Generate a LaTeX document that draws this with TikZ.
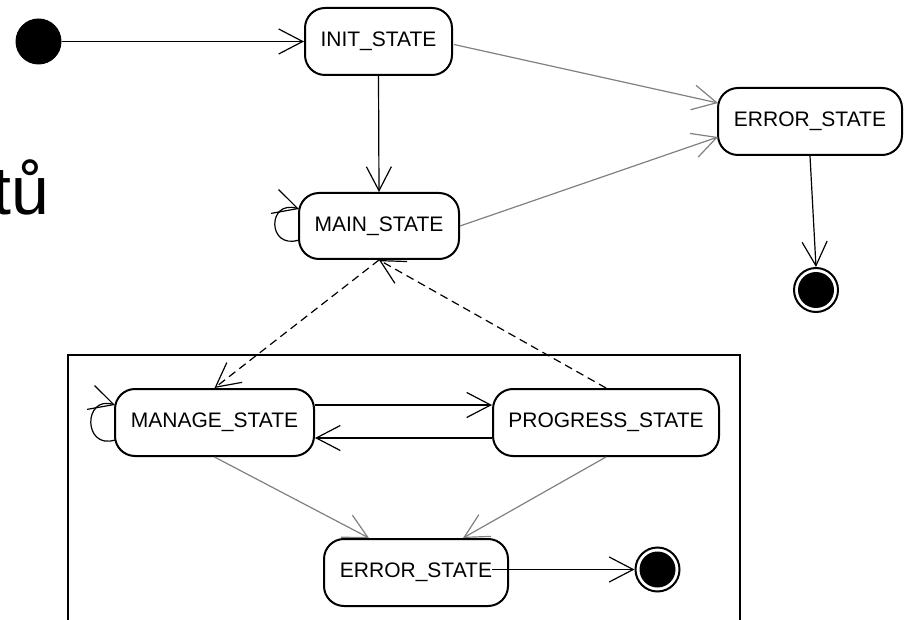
\documentclass[tikz,border=0pt]{standalone}
\usepackage{fontspec}
\setmainfont{Liberation Sans}
\usetikzlibrary{arrows.meta,calc}
\begin{document}
\begin{tikzpicture}[x=1pt,y=-1pt,
 state/.style={draw, line width=2pt, rounded corners=20pt, fill=white, minimum height=67pt, inner sep=0pt, font=\fontsize{21}{24}\selectfont},
 tr/.style={line width=1.2pt, -{Straight Barb[length=24pt,width=25pt]}},
 grey/.style={tr, draw=gray},
 dsh/.style={tr, dash pattern=on 8pt off 5pt},
 final/.style={circle, draw, line width=2pt, minimum size=44pt, inner sep=0pt, path picture={\fill[black] (path picture bounding box.center) circle (18pt);}},
 initial/.style={circle, fill=black, minimum size=46pt, inner sep=0pt}]
\useasboundingbox (0,0) rectangle (905,620);
% text fragment
\node[anchor=base west, inner sep=0pt, font=\fontsize{68}{80}\selectfont] (tu) at (-8,215) {tů};
% frame of the sub-machine
\draw[line width=2pt] (68,640) -- (68,355) -- (740,355) -- (740,640);
% states
\node[initial] (i0) at (38.5,41.5) {};
\node[state, minimum width=147pt] (init) at (378.5,41.5) {INIT\_STATE};
\node[state, minimum width=160pt, minimum height=66pt] (main) at (379,226) {MAIN\_STATE};
\node[state, minimum width=184pt] (err) at (810,121.5) {ERROR\_STATE};
\node[final] (f1) at (816,290) {};
\node[state, minimum width=199pt] (man) at (214.5,422.5) {MANAGE\_STATE};
\node[state, minimum width=226pt] (prog) at (606,422.5) {PROGRESS\_STATE};
\node[state, minimum width=184pt] (err2) at (416,572.5) {ERROR\_STATE};
\node[final] (f2) at (657.5,569.5) {};
% transitions
\draw[tr] (i0) -- (init);
\draw[tr] (init.south) -- (main.north);
\draw[grey] ($(init.east)+(1,3)$) -- ($(err.west)+(1,-18.5)$);
\draw[grey] (main.east) -- ($(err.west)+(1,15.5)$);
\draw[tr] (err.south) -- (f1.north);
\draw[tr] ($(main.west)+(1,14)$) .. controls +(-32,10) and +(-32,-10) .. ($(main.west)+(1,-17)$);
\draw[dsh] (main.south) -- (man.north);
\draw[dsh] (prog.north) -- (main.south);
\draw[tr] ($(man.west)+(1,17.5)$) .. controls +(-32,10) and +(-32,-10) .. ($(man.west)+(1,-17.5)$);
\draw[tr] ($(man.east)+(0,-17.5)$) -- ($(prog.west)+(0,-17.5)$);
\draw[tr] ($(prog.west)+(0,15.5)$) -- ($(man.east)+(0,15.5)$);
\draw[grey] (man.south) -- ($(err2.north)+(-47,0)$);
\draw[grey] (prog.south) -- ($(err2.north)+(47,0)$);
\draw[tr] ($(err2.east)+(-17,-3)$) -- (f2.west);
\end{tikzpicture}
\end{document}
